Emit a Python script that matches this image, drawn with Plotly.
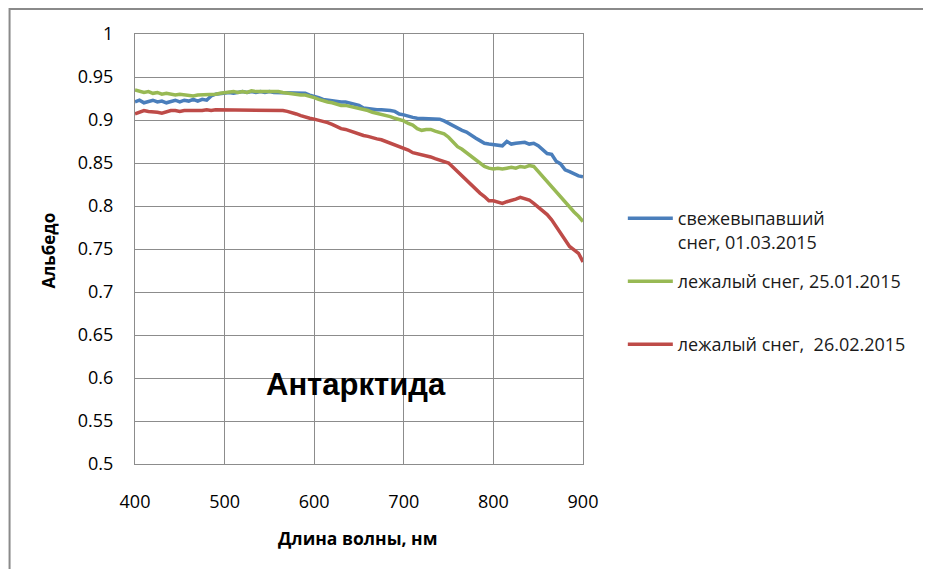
import plotly.graph_objects as go

wavelength = list(range(400, 905, 5))

fresh_0103 = [
    0.921, 0.923, 0.920, 0.922, 0.923, 0.921, 0.922, 0.920, 0.922, 0.923,
    0.921, 0.923, 0.922, 0.924, 0.922, 0.924, 0.923, 0.928, 0.930, 0.931,
    0.932, 0.932, 0.931, 0.932, 0.933, 0.932, 0.933, 0.932, 0.933, 0.932,
    0.933, 0.932, 0.932, 0.932, 0.932, 0.932, 0.932, 0.932, 0.931, 0.929,
    0.928, 0.926, 0.924, 0.923, 0.922, 0.922, 0.921, 0.921, 0.920, 0.918,
    0.917, 0.914, 0.913, 0.912, 0.912, 0.912, 0.912, 0.911, 0.910, 0.907,
    0.906, 0.904, 0.903, 0.902, 0.902, 0.902, 0.901, 0.902, 0.901, 0.899,
    0.896, 0.893, 0.891, 0.888, 0.886, 0.882, 0.879, 0.876, 0.873, 0.872,
    0.871, 0.871, 0.870, 0.875, 0.872, 0.873, 0.874, 0.874, 0.872, 0.873,
    0.870, 0.865, 0.861, 0.860, 0.852, 0.849, 0.842, 0.840, 0.837, 0.835,
    0.834,
]

old_2501 = [
    0.935, 0.933, 0.932, 0.933, 0.931, 0.932, 0.930, 0.931, 0.930, 0.929,
    0.930, 0.929, 0.929, 0.928, 0.929, 0.929, 0.929, 0.930, 0.930, 0.931,
    0.932, 0.932, 0.933, 0.932, 0.933, 0.932, 0.934, 0.933, 0.933, 0.934,
    0.933, 0.933, 0.933, 0.932, 0.931, 0.931, 0.930, 0.929, 0.929, 0.928,
    0.926, 0.924, 0.922, 0.921, 0.920, 0.918, 0.917, 0.917, 0.916, 0.914,
    0.913, 0.912, 0.911, 0.909, 0.908, 0.907, 0.906, 0.904, 0.902, 0.901,
    0.899, 0.896, 0.894, 0.890, 0.888, 0.889, 0.889, 0.887, 0.885, 0.884,
    0.880, 0.874, 0.869, 0.866, 0.862, 0.858, 0.855, 0.851, 0.846, 0.844,
    0.843, 0.844, 0.843, 0.844, 0.845, 0.844, 0.846, 0.845, 0.847, 0.846,
    0.840, 0.835, 0.828, 0.823, 0.817, 0.811, 0.805, 0.799, 0.793, 0.788,
    0.782,
]

old_2602 = [
    0.907, 0.909, 0.911, 0.910, 0.910, 0.909, 0.908, 0.910, 0.911, 0.911,
    0.910, 0.911, 0.911, 0.910, 0.911, 0.911, 0.912, 0.911, 0.912, 0.912,
    0.912, 0.912, 0.912, 0.912, 0.912, 0.912, 0.912, 0.912, 0.912, 0.912,
    0.912, 0.912, 0.912, 0.911, 0.910, 0.909, 0.907, 0.905, 0.903, 0.902,
    0.901, 0.900, 0.899, 0.897, 0.895, 0.892, 0.890, 0.889, 0.887, 0.885,
    0.883, 0.882, 0.881, 0.879, 0.878, 0.877, 0.875, 0.873, 0.872, 0.870,
    0.868, 0.865, 0.862, 0.861, 0.859, 0.858, 0.857, 0.855, 0.853, 0.851,
    0.850, 0.845, 0.840, 0.835, 0.830, 0.824, 0.819, 0.815, 0.811, 0.806,
    0.806, 0.805, 0.803, 0.805, 0.806, 0.808, 0.810, 0.809, 0.807, 0.803,
    0.799, 0.795, 0.790, 0.784, 0.776, 0.769, 0.760, 0.753, 0.749, 0.745,
    0.735,
]

series_names = [
    "свежевыпавший<br>снег, 01.03.2015",
    "лежалый снег, 25.01.2015",
    "лежалый снег,  26.02.2015",
]
series_colors = ["#4A7EBB", "#98B954", "#BE4B48"]

y_tickvals = [0.5, 0.55, 0.6, 0.65, 0.7, 0.75, 0.8, 0.85, 0.9, 0.95, 1.0]
y_ticktext = ["0.5", "0.55", "0.6", "0.65", "0.7", "0.75", "0.8", "0.85", "0.9", "0.95", "1"]
x_tickvals = [400, 500, 600, 700, 800, 900]

chart_title = "Антарктида"
x_title = "Длина волны, нм"
y_title = "Альбедо"

FONT = "Open Sans"
GRID = "#8c8c8c"

fig = go.Figure()
legends = ["legend", "legend2", "legend3"]
for ys, name, color, lg in zip([fresh_0103, old_2501, old_2602], series_names, series_colors, legends):
    fig.add_trace(go.Scatter(x=wavelength, y=ys, mode="lines", name=name,
                             line=dict(color=color, width=3.5), legend=lg))

# page has an 8px body margin; figure sized to fit inside the window
OFF = 8
W, H = 931 - 2 * OFF, 577 - 2 * OFF
# plot area in page pixels: x 135..585, y 34..464
L, T = 135 - OFF, 34 - OFF
R = W - (585 - OFF)
B = H - (464 - OFF)
pw, ph = W - L - R, H - T - B

def px_x(x):
    return (x - OFF - L) / pw

def px_y(y):
    return (H - B - (y - OFF)) / ph

legend_common = dict(
    xanchor="left", font=dict(family=FONT, size=18, color="#1a1a1a"),
    bgcolor="rgba(0,0,0,0)", itemwidth=45, valign="top",
    tracegroupgap=0, borderwidth=0,
)

fig.update_layout(
    width=W, height=H, autosize=False,
    margin=dict(l=L, r=R, t=T, b=B, pad=0),
    paper_bgcolor="white", plot_bgcolor="white",
    font=dict(family=FONT, size=18, color="#000000"),
    showlegend=True,
    legend=dict(x=px_x(625), y=px_y(200), yanchor="top", **legend_common),
    legend2=dict(x=px_x(625), y=px_y(263), yanchor="top", **legend_common),
    legend3=dict(x=px_x(625), y=px_y(326), yanchor="top", **legend_common),
    xaxis=dict(range=[400, 900], tickvals=x_tickvals, showgrid=True, gridcolor=GRID, gridwidth=1,
               showline=True, linecolor=GRID, linewidth=1, mirror=True, zeroline=False,
               ticks="outside", ticklen=21, tickcolor="rgba(0,0,0,0)",
               tickfont=dict(family=FONT, size=18, color="#000000")),
    yaxis=dict(range=[0.5, 1.0], tickvals=y_tickvals, ticktext=y_ticktext, showgrid=True,
               gridcolor=GRID, gridwidth=1, showline=True, linecolor=GRID, linewidth=1,
               mirror=True, zeroline=False, ticks="outside", ticklen=17,
               tickcolor="rgba(0,0,0,0)",
               tickfont=dict(family=FONT, size=18, color="#000000")),
    annotations=[
        dict(text=y_title, x=px_x(48), y=px_y(250), xref="paper", yref="paper",
             xanchor="center", yanchor="middle", showarrow=False, textangle=-90,
             font=dict(family=FONT, size=17, color="#000000", weight="bold")),
        dict(text=x_title, x=px_x(358), y=px_y(538), xref="paper", yref="paper",
             xanchor="center", yanchor="middle", showarrow=False,
             font=dict(family=FONT, size=17.5, color="#000000", weight="bold")),
        dict(text=chart_title, x=px_x(357), y=px_y(384), xref="paper", yref="paper",
             xanchor="center", yanchor="middle", showarrow=False,
             font=dict(family="Liberation Sans", size=31, color="#000000", weight="bold")),
    ],
    shapes=[
        dict(type="rect", xref="paper", yref="paper", layer="below",
             x0=px_x(9), x1=px_x(960), y0=px_y(600), y1=px_y(9),
             line=dict(color="#8a8a8a", width=2), fillcolor="rgba(0,0,0,0)"),
    ],
)

fig.write_html("out.html")
